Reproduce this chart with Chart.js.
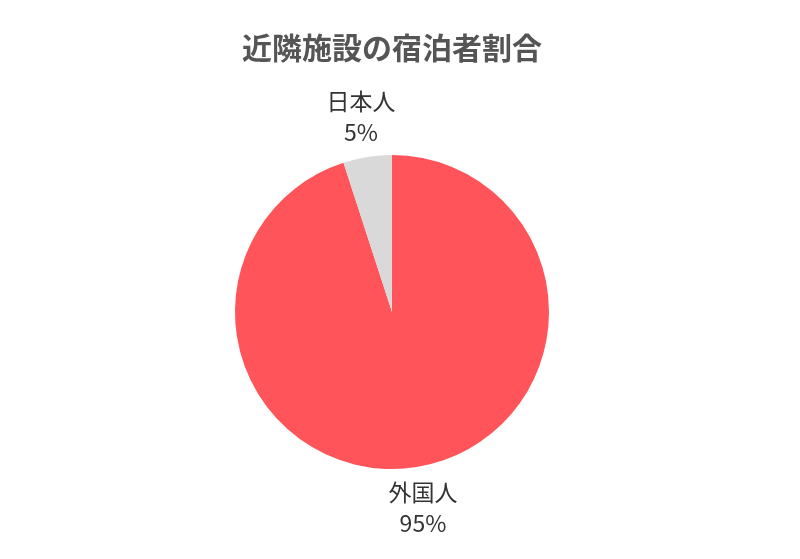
<!DOCTYPE html>
<html>
<head>
<meta charset="utf-8">
<script src="https://cdn.jsdelivr.net/npm/chart.js@4"></script>
<style>
  html, body { margin: 0; padding: 0; background: #fff; }
  #wrap { width: 800px; height: 559px; }
</style>
</head>
<body>
<div id="wrap"><canvas id="chart_pie"></canvas></div>
<script>
// datos del grafico
const labels_n = ["外国人", "日本人"];
const data_n = [95, 5];
const colors_n = ["#FF5459", "#D9D9D9"];

// etiquetas fuera del pastel
const outsideLabels = {
	id: "outsideLabels",
	afterDatasetsDraw(chart) {
		const c = chart.ctx;
		const meta = chart.getDatasetMeta(0);
		const total = data_n.reduce((a, b) => a + b, 0);
		c.save();
		c.fillStyle = "#333";
		c.font = "23px 'Noto Sans CJK JP', 'Noto Sans', sans-serif";
		c.textAlign = "center";
		c.textBaseline = "middle";
		meta.data.forEach((arc, i) => {
			const mid = (arc.startAngle + arc.endAngle) / 2;
			const r = arc.outerRadius + 41;
			const x = arc.x + Math.cos(mid) * r;
			const y = arc.y + Math.sin(mid) * r;
			c.fillText(labels_n[i], x, y - 15);
			c.fillText(Math.round(data_n[i] / total * 100) + "%", x, y + 16);
		});
		c.restore();
	}
};

const ctx = document.getElementById("chart_pie").getContext("2d");
let chart_pie = new Chart(ctx, {
	type: "pie",
	data: {
		labels: labels_n,
		datasets: [
			{
				data: data_n,
				backgroundColor: colors_n,
				borderWidth: 0,
			}
		],
	},
	options: {
		responsive: true,
		maintainAspectRatio: false,
		animation: false,
		layout: {
			padding: { top: 0, left: 0, right: 16, bottom: 90 },
		},
		plugins: {
			legend: { display: false },
			tooltip: { enabled: false },
			title: {
				display: true,
				text: "近隣施設の宿泊者割合",
				color: "#555",
				font: { size: 30, weight: "bold", family: "'Noto Sans CJK JP', 'Noto Sans', sans-serif" },
				padding: { top: 30, bottom: 89 },
			},
		},
	},
	plugins: [outsideLabels],
});
</script>
</body>
</html>
